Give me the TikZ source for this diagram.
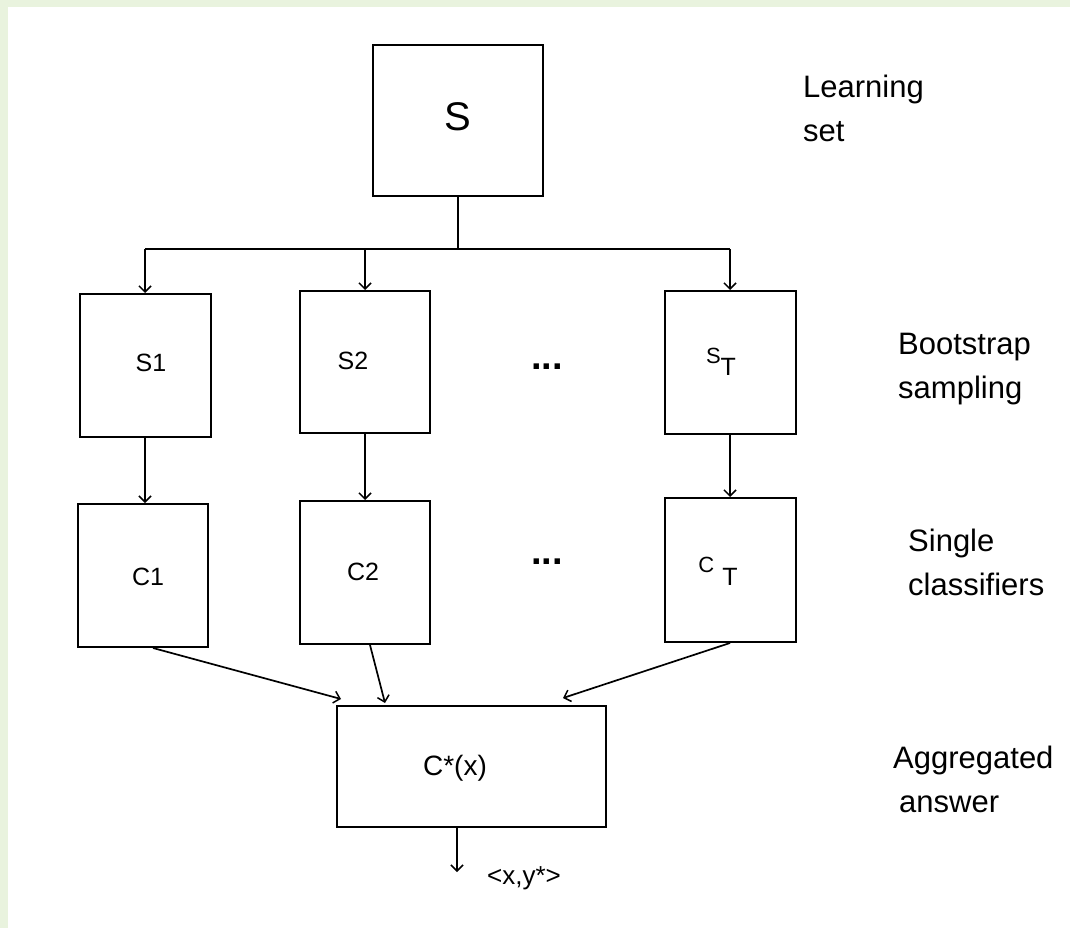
\documentclass[tikz,border=0pt]{standalone}
\usepackage{fontspec}
\setmainfont{Liberation Sans}
\usetikzlibrary{arrows.meta}
\definecolor{bgborder}{RGB}{233,243,222}
\begin{document}
\begin{tikzpicture}[x=1pt,y=-1pt,
  box/.style={draw=black, line width=2pt, inner sep=0pt, fill=white},
  intext/.style={font=\fontsize{25}{25}\selectfont, inner sep=0pt},
  lab/.style={font=\fontsize{31}{44}\selectfont, align=left, anchor=base west, inner sep=0pt},
  dots/.style={font=\fontsize{38}{38}\selectfont\bfseries, anchor=base, inner sep=0pt},
  conn/.style={line width=1.7pt},
  arr/.style={conn, -{Straight Barb[length=6pt,width=12pt,line width=1.5pt]}},
]
\useasboundingbox (0,0) rectangle (1070,928);
\fill[bgborder] (0,0) rectangle (1070,928);
\fill[white] (8,7) rectangle (1070,928);

% boxes
\node[box, minimum width=170pt, minimum height=151pt] (S)  at (458,120.5) {};
\node[box, minimum width=131pt, minimum height=143pt] (S1) at (145,365.5) {};
\node[box, minimum width=130pt, minimum height=142pt] (S2) at (365,362) {};
\node[box, minimum width=131pt, minimum height=143pt] (ST) at (730,362.5) {};
\node[box, minimum width=130pt, minimum height=143pt] (C1) at (143,575.5) {};
\node[box, minimum width=130pt, minimum height=143pt] (C2) at (365,572.5) {};
\node[box, minimum width=131pt, minimum height=144pt] (CT) at (730,570) {};
\node[box, minimum width=269pt, minimum height=121pt] (Cs) at (471.5,766) {};

% box texts
\node[intext, font=\fontsize{40}{40}\selectfont] (tS) at (458,117) {S};
\node[intext] (tS1) at (151,363) {S1};
\node[intext] (tS2) at (353,361) {S2};
\node[intext] (tST) at (721,362) {{\fontsize{22}{22}\selectfont\raisebox{6pt}{S}}\raisebox{-6pt}{T}};
\node[intext] (tC1) at (148,577) {C1};
\node[intext] (tC2) at (363,572) {C2};
\node[intext] (tCT) at (718,571) {{\fontsize{22}{22}\selectfont\raisebox{7pt}{C}}\hspace{8pt}\raisebox{-6pt}{T}};
\node[intext, font=\fontsize{28}{28}\selectfont] (tCs) at (455,768) {C*(x)};

% ellipses
\node[dots] (d1) at (547,369) {...};
\node[dots] (d2) at (547,564) {...};

% side labels (base anchor = baseline of the last line)
\node[lab] (L1) at (803,142) {Learning\\set};
\node[lab] (L2) at (898,398) {Bootstrap\\sampling};
\node[lab] (L3) at (908,595) {Single\\classifiers};
\node[lab] (L4) at (893,812) {Aggregated\\\hspace*{6pt}answer};

% tree from S
\coordinate (bus) at (S.south |- 0,249);
\draw[conn] (S.south) -- (bus);
\draw[conn] (S1.north |- bus) -- (ST.north |- bus);
\draw[arr] (S1.north |- bus) -- (S1.north);
\draw[arr] (S2.north |- bus) -- (S2.north);
\draw[arr] (ST.north |- bus) -- (ST.north);

% samples to classifiers
\draw[arr] (S1.south) -- (S1.south |- C1.north);
\draw[arr] (S2.south) -- (S2.south |- C2.north);
\draw[arr] (ST.south) -- (ST.south |- CT.north);

% classifiers to aggregate
\coordinate (in1) at (341,699);
\coordinate (in2) at (385,703);
\coordinate (in3) at (563,698);
\draw[arr] ([xshift=10pt]C1.south) -- (in1);
\draw[arr] ([xshift=5pt]C2.south) -- (in2);
\draw[arr] (CT.south) -- (in3);

% output
\coordinate (out) at (457,872);
\draw[arr] (Cs.south -| out) -- (out);
\node[intext, font=\fontsize{26}{26}\selectfont] (res) at (524,878) {<x,y*>};
\end{tikzpicture}
\end{document}
